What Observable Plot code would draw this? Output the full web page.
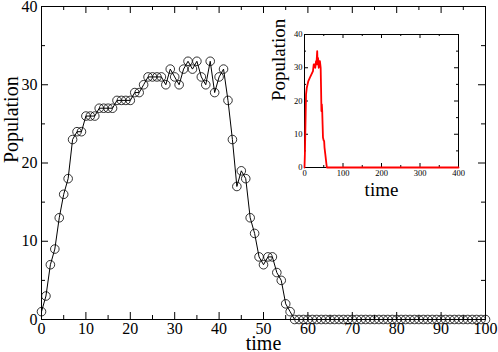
<!DOCTYPE html>
<html>
<head>
<meta charset="utf-8">
<script src="https://cdn.jsdelivr.net/npm/d3@7"></script>
<script src="https://cdn.jsdelivr.net/npm/@observablehq/plot@0.6"></script>
<style>
  html, body { margin: 0; padding: 0; background: white; }
  #wrap { position: relative; width: 498px; height: 352px; }
  #inset { position: absolute; left: 270px; top: 20px; }
</style>
</head>
<body>
<div id="wrap"><div id="main"></div><div id="inset"></div></div>
<script>
// ---- Main chart data (time steps 0..100) ----
const population = [
  1, 3, 7, 9, 13, 16, 18, 23, 24, 24,
  26, 26, 26, 27, 27, 27, 27, 28, 28, 28,
  28, 29, 29, 30, 31, 31, 31, 31, 30, 32,
  31, 30, 32, 33, 32, 33, 31, 30, 33, 29,
  31, 32, 28, 23, 17, 19, 18, 13, 11, 8,
  7, 8, 8, 6, 5, 2, 1, 0, 0, 0,
  0, 0, 0, 0, 0, 0, 0, 0, 0, 0,
  0, 0, 0, 0, 0, 0, 0, 0, 0, 0,
  0, 0, 0, 0, 0, 0, 0, 0, 0, 0,
  0, 0, 0, 0, 0, 0, 0, 0, 0, 0,
  0
];
const time = d3.range(population.length);

const xMajor = [0, 10, 20, 30, 40, 50, 60, 70, 80, 90, 100];
const xMinor = [5, 15, 25, 35, 45, 55, 65, 75, 85, 95];
const yMajor = [0, 10, 20, 30, 40];
const yMinor = [5, 15, 25, 35];

// ---- Inset chart data (time 0..400) ----
const insetTime = [0, 1, 2, 3, 4, 6, 8, 10, 14, 18, 22, 24, 26, 28, 30, 31, 32, 33, 34, 35, 36, 37, 38, 39, 40, 41, 42, 43, 44, 45, 46, 47, 48, 50, 51, 52, 54, 56, 58, 100, 200, 300, 400];
const insetPop  = [0, 4, 10, 16, 22, 24, 25, 26, 27, 28, 29, 31, 31, 30, 32, 31, 33, 35, 31, 33, 32, 30, 32, 31, 32, 31, 30, 24, 17, 19, 17, 13, 9, 8, 8, 6, 4, 2, 0, 0, 0, 0, 0];
const insetXMajor = [0, 100, 200, 300, 400];
const insetXMinor = [50, 150, 250, 350];
const insetYMajor = [0, 10, 20, 30, 40];
const insetYMinor = [5, 15, 25, 35];

const data = time.map((t, i) => ({t, p: population[i]}));
const insetData = insetTime.map((t, i) => ({t, p: insetPop[i]}));

const serif = "'Liberation Serif', 'Times New Roman', Times, serif";

function tickMarks(xMaj, xMin, yMaj, yMin, innerW, innerH, maj, min) {
  return [
    Plot.ruleX(xMaj, {insetTop: innerH - maj, stroke: "black"}),
    Plot.ruleX(xMaj, {insetBottom: innerH - maj, stroke: "black"}),
    Plot.ruleX(xMin, {insetTop: innerH - min, stroke: "black"}),
    Plot.ruleX(xMin, {insetBottom: innerH - min, stroke: "black"}),
    Plot.ruleY(yMaj, {insetRight: innerW - maj, stroke: "black"}),
    Plot.ruleY(yMaj, {insetLeft: innerW - maj, stroke: "black"}),
    Plot.ruleY(yMin, {insetRight: innerW - min, stroke: "black"}),
    Plot.ruleY(yMin, {insetLeft: innerW - min, stroke: "black"})
  ];
}

// ---- Main plot ----
const W = 498, H = 352, mL = 41, mR = 13, mT = 6, mB = 33;
const innerW = W - mL - mR, innerH = H - mT - mB;
const main = Plot.plot({
  width: W, height: H,
  marginLeft: mL, marginRight: mR, marginTop: mT, marginBottom: mB,
  x: {domain: [0, 100]},
  y: {domain: [0, 40]},
  style: {fontFamily: serif, fontSize: "16px", background: "white", color: "black", overflow: "visible"},
  marks: [
    ...tickMarks(xMajor, xMinor, yMajor, yMinor, innerW, innerH, 7, 4),
    Plot.frame({stroke: "black"}),
    Plot.axisX(xMajor, {tickSize: 0, tickPadding: 3, label: null, fontSize: 16, fontFamily: serif}),
    Plot.axisY(yMajor, {tickSize: 0, tickPadding: 4, label: null, fontSize: 16, fontFamily: serif}),
    Plot.line(data, {x: "t", y: "p", stroke: "black", strokeWidth: 1}),
    Plot.dot(data, {x: "t", y: "p", r: 4.3, stroke: "black", strokeWidth: 0.8, fill: "none"}),
    Plot.text(["time"], {frameAnchor: "bottom", dy: 30, fontSize: 20, lineAnchor: "bottom", fontFamily: serif}),
    Plot.text(["Population"], {frameAnchor: "left", dx: -30, rotate: -90, fontSize: 20, lineAnchor: "middle", fontFamily: serif})
  ]
});
document.getElementById("main").appendChild(main);

// ---- Inset plot ----
const iW = 200, iH = 180, iL = 34, iR = 12, iT = 14, iB = 33;
const iInnerW = iW - iL - iR, iInnerH = iH - iT - iB;
const inset = Plot.plot({
  width: iW, height: iH,
  marginLeft: iL, marginRight: iR, marginTop: iT, marginBottom: iB,
  x: {domain: [0, 400]},
  y: {domain: [0, 40]},
  style: {fontFamily: serif, fontSize: "8.5px", background: "transparent", color: "black", overflow: "visible"},
  marks: [
    ...tickMarks(insetXMajor, insetXMinor, insetYMajor, insetYMinor, iInnerW, iInnerH, 4, 2),
    Plot.frame({stroke: "black"}),
    Plot.axisX(insetXMajor, {tickSize: 0, tickPadding: 2, label: null, fontSize: 8.5, fontFamily: serif}),
    Plot.axisY(insetYMajor, {tickSize: 0, tickPadding: 2, label: null, fontSize: 8.5, fontFamily: serif}),
    Plot.line(insetData, {x: "t", y: "p", stroke: "red", strokeWidth: 1.8}),
    Plot.text(["time"], {frameAnchor: "bottom", dy: 28, fontSize: 19, lineAnchor: "bottom", fontFamily: serif}),
    Plot.text(["Population"], {frameAnchor: "left", dx: -26, rotate: -90, fontSize: 19, lineAnchor: "middle", fontFamily: serif})
  ]
});
document.getElementById("inset").appendChild(inset);
</script>
</body>
</html>
